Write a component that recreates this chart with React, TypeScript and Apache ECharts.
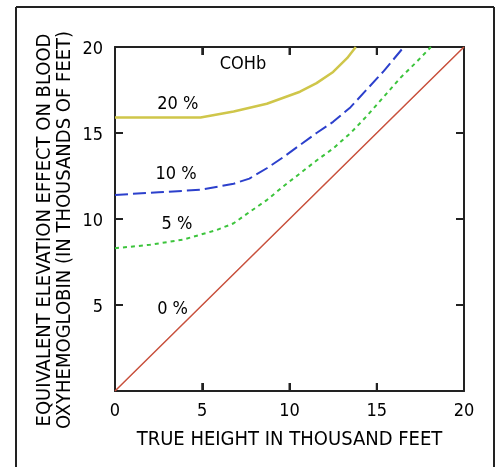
import React, { useEffect, useRef } from "react";
import * as echarts from "echarts";

const axisTicks = [0, 5, 10, 15, 20];
const innerTicks = [5, 10, 15];

const cohb0: [number, number][] = [
  [0, 0], [3.3, 3.3], [10, 10], [16.7, 16.7], [20, 20],
];
const cohb5: [number, number][] = [
  [0, 8.3], [2, 8.5], [3.9, 8.8], [5.8, 9.35], [6.8, 9.75], [7.7, 10.4],
  [8.7, 11.1], [9.65, 11.9], [10.6, 12.65], [11.55, 13.4], [12.5, 14.1],
  [13.5, 15.0], [14.4, 15.95], [15.4, 17.1], [16.35, 18.2], [17.3, 19.15], [18.1, 20],
];
const cohb10: [number, number][] = [
  [0, 11.4], [2.5, 11.55], [4.9, 11.7], [6.8, 12.05], [7.7, 12.35], [8.7, 12.95],
  [9.65, 13.6], [10.6, 14.3], [11.55, 15.0], [12.5, 15.65], [13.5, 16.5],
  [14.4, 17.5], [15.4, 18.6], [16.55, 20],
];
const cohb20: [number, number][] = [
  [0, 15.9], [4.9, 15.9], [6.8, 16.25], [8.7, 16.7], [10.6, 17.4], [11.55, 17.9],
  [12.5, 18.55], [13.3, 19.35], [13.8, 20],
];

const curveLabels = ["COHb", "20 %", "10 %", "5 %", "0 %"];
const curveLabelX = [7.33, 3.6, 3.5, 3.55, 3.3];
const curveLabelY = [19.07, 16.8, 12.7, 9.8, 4.84];

const xAxisTitle = "TRUE HEIGHT IN THOUSAND FEET";
const yAxisTitle1 = "EQUIVALENT ELEVATION EFFECT ON BLOOD";
const yAxisTitle2 = "OXYHEMOGLOBIN (IN THOUSANDS OF FEET)";

const FONT = "'Liberation Sans Narrow', 'DejaVu Sans Condensed', 'Liberation Sans', Arial, sans-serif";
const INK = "#000";
const LINE_INK = "#222";
const TICK_LEN = 8;
const TICK_W = 2;
const AXIS_MIN = 0;
const AXIS_MAX = 20;

export default function App() {
  const ref = useRef<HTMLDivElement>(null);
  useEffect(() => {
    if (!ref.current) return;
    const chart = echarts.init(ref.current, undefined, { renderer: "svg" });
    const baseAxis = {
      type: "value",
      min: AXIS_MIN,
      max: AXIS_MAX,
      interval: 5,
      splitLine: { show: false },
      axisLine: { show: true, onZero: false, lineStyle: { color: LINE_INK, width: 2 } },
      axisTick: { show: true, inside: true, length: TICK_LEN, lineStyle: { color: LINE_INK, width: TICK_W } },
    };
    const frame: any[] = [
      { id: "f1", type: "line", silent: true, shape: { x1: 16, y1: 7, x2: 494, y2: 7 }, style: { stroke: LINE_INK, lineWidth: 2 } },
      { id: "f2", type: "line", silent: true, shape: { x1: 16, y1: 7, x2: 16, y2: 467 }, style: { stroke: LINE_INK, lineWidth: 2 } },
      { id: "f3", type: "line", silent: true, shape: { x1: 494, y1: 7, x2: 494, y2: 467 }, style: { stroke: LINE_INK, lineWidth: 2 } },
      {
        id: "yt1",
        type: "text",
        x: 43,
        y: 230,
        rotation: Math.PI / 2,
        style: { text: yAxisTitle1, fill: INK, font: `20px ${FONT}`, textAlign: "center", textVerticalAlign: "middle" },
      },
      {
        id: "yt2",
        type: "text",
        x: 63,
        y: 230,
        rotation: Math.PI / 2,
        style: { text: yAxisTitle2, fill: INK, font: `20px ${FONT}`, textAlign: "center", textVerticalAlign: "middle" },
      },
    ];
    chart.setOption({
      animation: false,
      grid: { left: 115, right: 31, top: 47, bottom: 76, containLabel: false },
      graphic: frame,
      xAxis: [
        {
          ...baseAxis,
          position: "bottom",
          name: xAxisTitle,
          nameLocation: "middle",
          nameGap: 37,
          nameTextStyle: { fontFamily: FONT, fontSize: 20, color: INK },
          axisLabel: {
            margin: 9,
            fontFamily: FONT,
            fontSize: 18,
            color: INK,
            formatter: (v: number) => (axisTicks.includes(v) ? String(v) : ""),
          },
        },
        { ...baseAxis, position: "top", axisLabel: { show: false } },
      ],
      yAxis: [
        {
          ...baseAxis,
          position: "left",
          axisLabel: {
            margin: 12,
            fontFamily: FONT,
            fontSize: 18,
            color: INK,
            formatter: (v: number) => (v === 0 ? "" : String(v)),
          },
        },
        { ...baseAxis, position: "right", axisLabel: { show: false } },
      ],
      series: [
        { type: "line", data: cohb0, symbol: "none", lineStyle: { color: "#c8503c", width: 1.5 }, z: 3 },
        { type: "line", data: cohb5, symbol: "none", lineStyle: { color: "#3cc43c", width: 2, type: [4, 4] }, z: 3 },
        { type: "line", data: cohb10, symbol: "none", lineStyle: { color: "#2c40cc", width: 2, type: [13, 5] }, z: 3 },
        { type: "line", data: cohb20, symbol: "none", lineStyle: { color: "#cfc64a", width: 2.5 }, z: 3 },
      ],
    });

    // curve labels and inward tick marks, positioned through the axis scales
    const px = (x: number, y: number) => chart.convertToPixel({ gridIndex: 0 }, [x, y]) as number[];
    const extra: any[] = [];
    curveLabels.forEach((t, i) => {
      const p = px(curveLabelX[i], curveLabelY[i]);
      extra.push({
        id: `lab${i}`,
        type: "text",
        z: 50,
        x: p[0],
        y: p[1],
        style: { text: t, fill: INK, font: `18px ${FONT}`, textAlign: "center", textVerticalAlign: "middle" },
      });
    });
    innerTicks.forEach((v, i) => {
      const b = px(v, AXIS_MIN);
      const t = px(v, AXIS_MAX);
      const l = px(AXIS_MIN, v);
      const r = px(AXIS_MAX, v);
      const f = { fill: LINE_INK };
      extra.push(
        { id: `tb${i}`, type: "rect", z: 100, silent: true, shape: { x: b[0] - TICK_W / 2, y: b[1] - TICK_LEN, width: TICK_W, height: TICK_LEN }, style: f },
        { id: `tt${i}`, type: "rect", z: 100, silent: true, shape: { x: t[0] - TICK_W / 2, y: t[1], width: TICK_W, height: TICK_LEN }, style: f },
        { id: `tl${i}`, type: "rect", z: 100, silent: true, shape: { x: l[0], y: l[1] - TICK_W / 2, width: TICK_LEN, height: TICK_W }, style: f },
        { id: `tr${i}`, type: "rect", z: 100, silent: true, shape: { x: r[0] - TICK_LEN, y: r[1] - TICK_W / 2, width: TICK_LEN, height: TICK_W }, style: f },
      );
    });
    chart.setOption({ graphic: [...frame, ...extra] });

    return () => chart.dispose();
  }, []);
  return <div ref={ref} style={{ position: "fixed", left: 0, top: 0, width: 495, height: 467 }} />;
}
